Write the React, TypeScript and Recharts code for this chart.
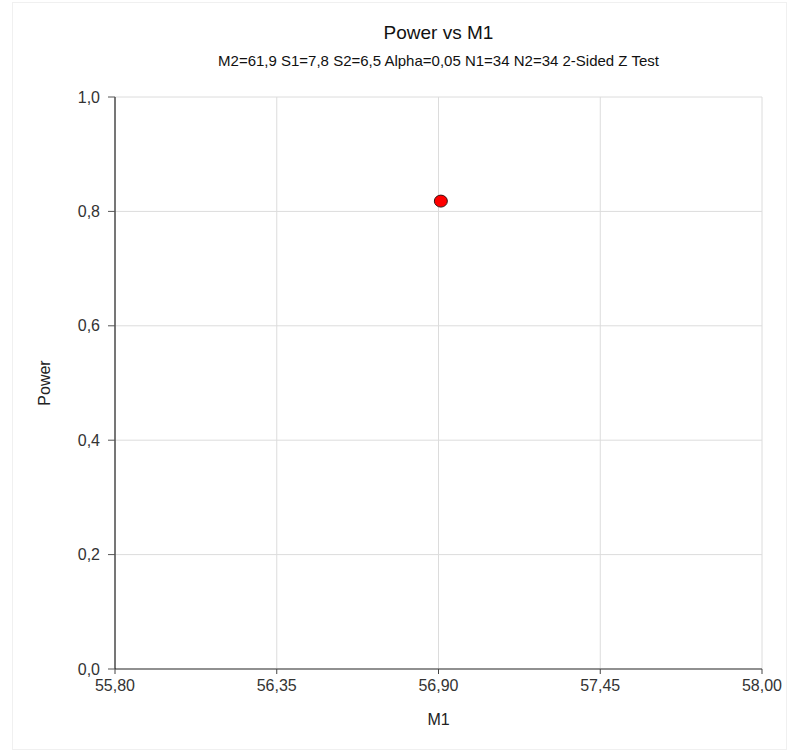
import React from "react";
import { ScatterChart, Scatter, XAxis, YAxis, CartesianGrid } from "recharts";

const xTicks = [55.8, 56.35, 56.9, 57.45, 58.0];
const yTicks = [0, 0.2, 0.4, 0.6, 0.8, 1.0];
const m1Values = [56.908];
const powerValues = [0.818];

const data = m1Values.map((m1, i) => ({ m1, power: powerValues[i] }));

const FONT = "'Liberation Sans', Arial, Helvetica, sans-serif";

const fmtX = (v: number) => v.toFixed(2).replace(".", ",");
const fmtY = (v: number) => v.toFixed(1).replace(".", ",");

const Dot = (props: any) => {
  const { cx, cy } = props;
  return <ellipse cx={cx} cy={cy} rx={6.5} ry={6} fill="#ff0000" stroke="#3a1010" strokeWidth={1} />;
};

export default function App() {
  return (
    <div style={{ position: "absolute", left: 0, top: 0, width: 790, height: 753, background: "#fff", fontFamily: FONT }}>
      <div style={{ position: "absolute", left: 12, top: 2, width: 775, height: 748, border: "1px solid #f0f0f0", boxSizing: "border-box" }} />
      <div style={{ position: "absolute", left: 115, width: 647, top: 22, textAlign: "center", fontSize: 19, lineHeight: "22px", color: "#111" }}>Power vs M1</div>
      <div style={{ position: "absolute", left: 115, width: 647, top: 52, textAlign: "center", fontSize: 15, lineHeight: "17px", color: "#111" }}>
        M2=61,9 S1=7,8 S2=6,5 Alpha=0,05 N1=34 N2=34 2-Sided Z Test
      </div>
      <div style={{ position: "absolute", left: 115, width: 647, top: 711, textAlign: "center", fontSize: 16, lineHeight: "18px", color: "#222" }}>M1</div>
      <div
        style={{
          position: "absolute",
          left: 45,
          top: 383,
          transform: "translate(-50%, -50%) rotate(-90deg)",
          fontSize: 16,
          lineHeight: "18px",
          color: "#222",
          whiteSpace: "nowrap",
        }}
      >
        Power
      </div>
      <div style={{ position: "absolute", left: 0, top: 0 }}>
        <ScatterChart width={790} height={753} margin={{ top: 97, right: 28, bottom: 54, left: 15 }}>
          <CartesianGrid stroke="#dcdcdc" strokeWidth={1} />
          <XAxis
            type="number"
            dataKey="m1"
            domain={[55.8, 58.0]}
            ticks={xTicks}
            tickFormatter={fmtX}
            allowDataOverflow
            height={30}
            tickSize={5}
            tickMargin={6}
            axisLine={{ stroke: "#707070", strokeWidth: 1.5 }}
            tickLine={{ stroke: "#444" }}
            tick={{ fontSize: 16, fill: "#333", fontFamily: FONT }}
          />
          <YAxis
            type="number"
            dataKey="power"
            domain={[0, 1]}
            ticks={yTicks}
            tickFormatter={fmtY}
            allowDataOverflow
            width={100}
            tickSize={7}
            tickMargin={8}
            axisLine={{ stroke: "#000", strokeWidth: 1 }}
            tickLine={{ stroke: "#555" }}
            tick={{ fontSize: 16, fill: "#333", fontFamily: FONT }}
          />
          <Scatter data={data} shape={<Dot />} isAnimationActive={false} />
        </ScatterChart>
      </div>
    </div>
  );
}
